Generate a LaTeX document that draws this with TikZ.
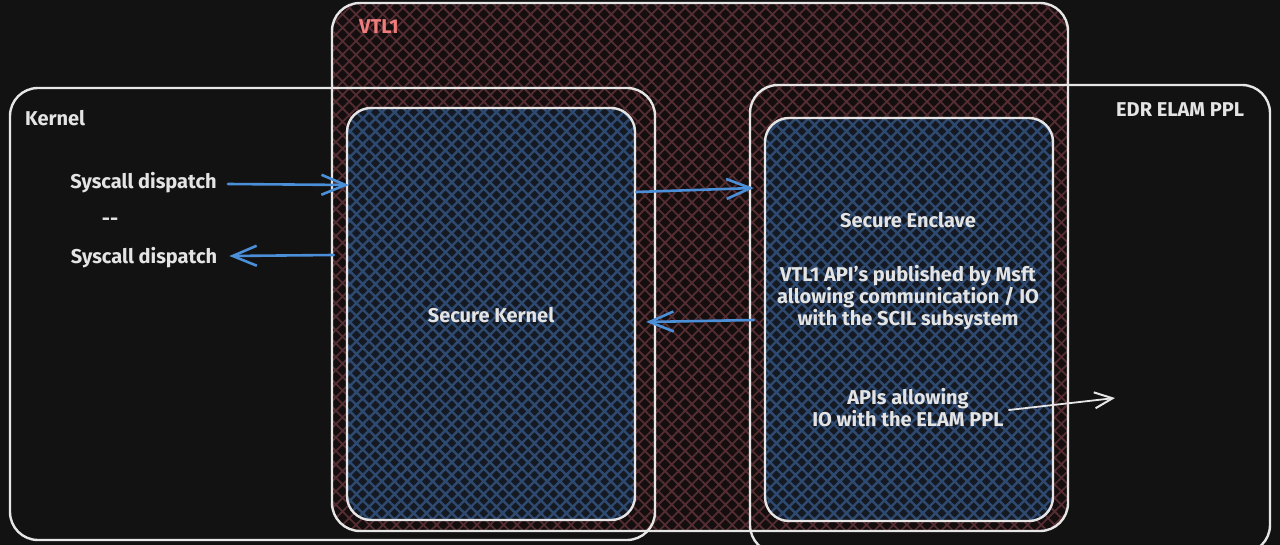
\documentclass[tikz,border=0pt]{standalone}
\usepackage{fontspec}
\setmainfont{Fira Sans}[BoldFont={Fira Sans Bold}]
\usetikzlibrary{patterns.meta,arrows.meta}
\definecolor{bg}{HTML}{121212}
\definecolor{vtlbg}{HTML}{150E0F}
\definecolor{redline}{HTML}{542E33}
\definecolor{secbg}{HTML}{141922}
\definecolor{blueline}{HTML}{2F4A70}
\definecolor{edge}{HTML}{E6E6E6}
\definecolor{txt}{HTML}{E4E4E4}
\definecolor{arrblue}{HTML}{4A8FD8}
\definecolor{vtlred}{HTML}{F07C7C}
\tikzset{
  box/.style={draw=edge, line width=2.4pt, rounded corners=28pt, inner sep=0pt},
  vtlbox/.style={box, preaction={fill=vtlbg}, pattern={Hatch[angle=45,distance=9.5pt,line width=1.8pt]}, pattern color=redline},
  secbox/.style={box, rounded corners=24pt, preaction={fill=secbg}, pattern={Hatch[angle=45,distance=9pt,line width=2.4pt]}, pattern color=blueline},
  lbl/.style={font=\bfseries\fontsize{20}{22}\selectfont, text=txt, align=center, inner sep=0pt},
  arr/.style={draw=arrblue, line width=2.6pt, line cap=round, -{Straight Barb[length=24pt,width=20pt,line width=2.6pt]}},
  warr/.style={arr, draw=edge, -{Straight Barb[length=18pt,width=16pt,line width=2pt]}, line width=1.8pt},
}
\begin{document}
\begin{tikzpicture}[x=1pt,y=-1pt]
\useasboundingbox (0,0) rectangle (1280,545);
\fill[bg] (0,0) rectangle (1280,545);
\clip (0,0) rectangle (1280,545);
% boxes
\node[vtlbox, minimum width=736pt, minimum height=528pt] (vtl) at (700,267) {};
\node[box, minimum width=645pt, minimum height=452pt] (kern) at (332.5,314) {};
\node[box, minimum width=520pt, minimum height=468pt] (edr) at (1010,319) {};
\node[secbox, minimum width=288pt, minimum height=412pt] (sk) at (491,314) {};
\node[secbox, minimum width=288pt, minimum height=403pt] (se) at (909,319.5) {};
% labels
\node[lbl, text=vtlred, anchor=west] (vtll) at (359,27) {VTL1};
\node[lbl, anchor=west] (kernl) at (25,118) {Kernel};
\node[lbl, anchor=west] (edrl) at (1116,110) {EDR ELAM PPL};
\node[lbl] (sd1) at (143.5,183) {Syscall dispatch};
\node[lbl] (dash) at (110,222) {-{}-};
\node[lbl] (sd2) at (144,258) {Syscall dispatch};
\node[lbl] (skl) at (491,315) {Secure Kernel};
\node[lbl] (sel) at (908,220) {Secure Enclave};
\node[lbl] (api) at (908,298) {VTL1 API's published by Msft\\allowing communication / IO\\with the SCIL subsystem};
\node[lbl] (elam) at (908,407.5) {APIs allowing\\IO with the ELAM PPL};
\coordinate (elamend) at (1115,398);
% arrows
\draw[arr] ([xshift=11pt,yshift=-1pt]sd1.east) -- ([xshift=3pt]sk.west |- 0,185);
\draw[arr] ([xshift=-12pt]sk.west |- 0,255) -- ([xshift=12pt,yshift=2pt]sd2.east);
\draw[arr] (sk.east |- 0,192) -- ([xshift=-10pt]se.west |- 0,188);
\draw[arr] ([xshift=-10pt]se.west |- 0,320) -- ([xshift=10pt]sk.east |- 0,322);
\draw[warr] ([xshift=5pt,yshift=-2.5pt]elam.east) -- (elamend);
\end{tikzpicture}
\end{document}
